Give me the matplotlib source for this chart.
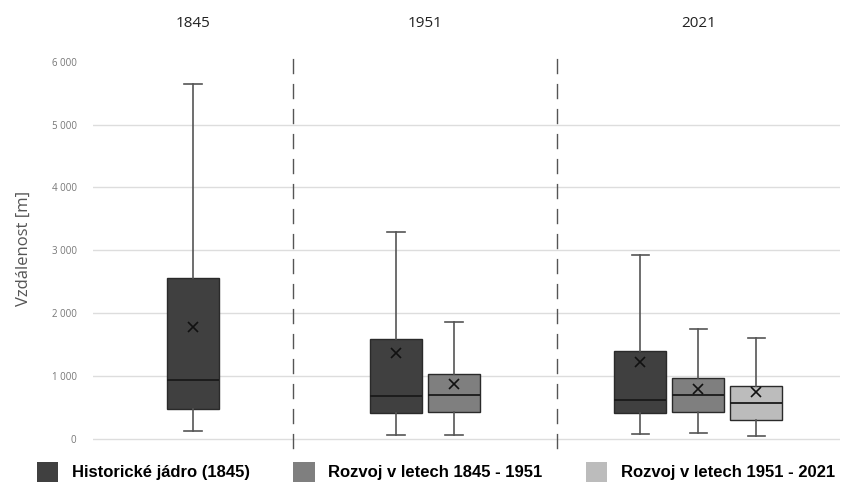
import matplotlib.pyplot as plt
from matplotlib.patches import Patch
from matplotlib import font_manager

# values (metres)
years = ['1845', '1951', '2021']
series = ['Historické jádro (1845)', 'Rozvoj v letech 1845 - 1951', 'Rozvoj v letech 1951 - 2021']
colors = ['#404040', '#7f7f7f', '#bcbcbc']

# one list per year, one entry per series present in that year
whis_lo = [[130], [55, 55], [80, 90, 40]]
q1 = [[480], [415, 430], [415, 430, 305]]
median = [[940], [685, 690], [625, 700, 565]]
q3 = [[2560], [1590, 1035], [1405, 975, 845]]
whis_hi = [[5650], [3290, 1860], [2930, 1750, 1600]]
mean = [[1780], [1370, 875], [1215, 785, 750]]

yticks = [0, 1000, 2000, 3000, 4000, 5000, 6000]
ytick_labels = ['0', '1 000', '2 000', '3 000', '4 000', '5 000', '6 000']

plt.rcParams['font.family'] = ['Open Sans', 'DejaVu Sans']

names = {f.name for f in font_manager.fontManager.ttflist}
legend_font = 'Liberation Sans Narrow' if 'Liberation Sans Narrow' in names else 'Liberation Sans'

fig = plt.figure(figsize=(8.63, 4.92), dpi=100)
# panel widths in box-spacing units
widths = [3.45, 4.55, 4.88]
gs = fig.add_gridspec(1, 3, width_ratios=widths, wspace=0,
                      left=0.108, right=0.973, bottom=0.089, top=0.900)

axes = []
for i, year in enumerate(years):
    ax = fig.add_subplot(gs[0, i], sharey=axes[0] if axes else None)
    axes.append(ax)
    n = len(q1[i])
    stats = []
    for j in range(n):
        stats.append({'whislo': whis_lo[i][j], 'q1': q1[i][j], 'med': median[i][j],
                      'q3': q3[i][j], 'whishi': whis_hi[i][j], 'mean': mean[i][j]})
    pos = [j - (n - 1) / 2 for j in range(n)]
    bp = ax.bxp(stats, positions=pos, widths=0.9, capwidths=0.3, patch_artist=True,
                showmeans=True, showfliers=False,
                medianprops=dict(color='#1a1a1a', linewidth=1.3),
                whiskerprops=dict(color='#555555', linewidth=1.2),
                capprops=dict(color='#555555', linewidth=1.2),
                meanprops=dict(marker='x', markeredgecolor='#111111', markersize=7,
                               markeredgewidth=1.2),
                boxprops=dict(edgecolor='#2a2a2a', linewidth=1.0))
    for j, box in enumerate(bp['boxes']):
        box.set_facecolor(colors[j])
    ax.set_xlim(-widths[i] / 2, widths[i] / 2)
    ax.set_xticks([])
    ax.set_title(year, fontsize=11, color='#222222', pad=16)
    for s in ['top', 'right', 'bottom']:
        ax.spines[s].set_visible(False)
    if i == 0:
        ax.spines['left'].set_visible(False)
    else:
        ax.spines['left'].set_linestyle((0, (10, 8)))
        ax.spines['left'].set_color('#555555')
        ax.spines['left'].set_linewidth(1.0)
        ax.tick_params(axis='y', left=False, labelleft=False)
    for y in yticks[:-1]:
        ax.axhline(y, color='#dddddd', linewidth=1.0, zorder=0)

axes[0].set_ylim(-150, 6200)
axes[0].set_yticks(yticks)
axes[0].set_yticklabels(ytick_labels)
axes[0].tick_params(axis='y', length=0, labelsize=7, labelcolor='#777777', pad=12)
axes[0].set_ylabel('Vzdálenost [m]', fontsize=12, color='#555555', labelpad=14)

handles = [Patch(facecolor=c, edgecolor='none') for c in colors]
fig.legend(handles, series, loc='lower center', ncol=3, frameon=False,
           bbox_to_anchor=(0.505, -0.01), handlelength=1.3, handleheight=1.5,
           columnspacing=2.6, handletextpad=0.8,
           prop={'family': legend_font, 'weight': 'bold', 'size': 12})

fig.savefig('out.png', dpi=100)
